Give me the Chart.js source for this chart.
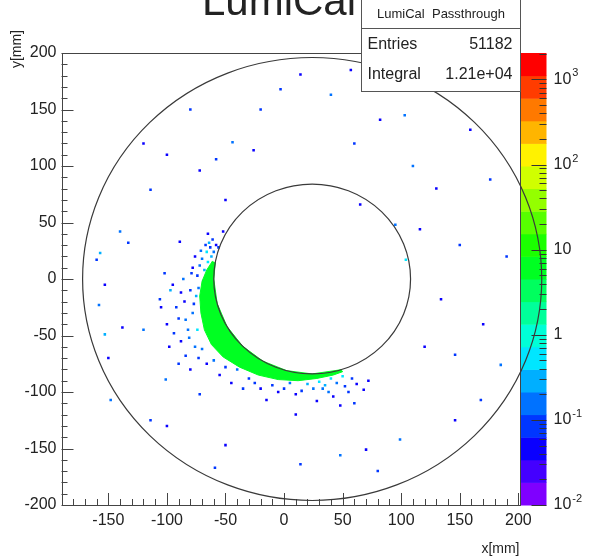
<!DOCTYPE html>
<html>
<head>
<meta charset="utf-8">
<script src="https://cdn.jsdelivr.net/npm/chart.js@4.4.0/dist/chart.umd.min.js"></script>
<style>
  html, body { margin: 0; padding: 0; background: #fff; }
  #wrap { width: 591px; height: 558px; }
</style>
</head>
<body>
<div id="wrap"><canvas id="c" width="591" height="558"></canvas></div>
<script>
// ---- data ----
const title = 'LumiCal';
const statsName = 'LumiCal  Passthrough';
const statsLabels = ['Entries', 'Integral'];
const statsValues = ['51182', '1.21e+04'];

const xTicks = [-150, -100, -50, 0, 50, 100, 150, 200];
const yTicks = [-200, -150, -100, -50, 0, 50, 100, 150, 200];
const zTicks = [0.01, 0.1, 1, 10, 100, 1000];
const zTickBase = ['10', '10', '1', '10', '10', '10'];
const zTickExp = ['-2', '-1', '', '', '2', '3'];

// 20 colour levels, lowest first
const palette = [
  '#7f00ff', '#4400ff', '#0a00ff', '#0036ff', '#0072ff', '#00afff', '#00e6ff',
  '#00ffd7', '#00ff9a', '#00ff5e', '#00ff22', '#1bff00', '#57ff00', '#94ff00',
  '#d0ff00', '#fff200', '#ffb500', '#ff7900', '#ff3c00', '#ff0000'
];

// detector rings [mm]
const ringX = [24, 24];
const ringY = [0, 0];
const ringR = [196, 84];

// dense crescent of hits next to the inner ring
const crescentX = [-61, -66, -70, -72, -71, -68, -62, -52, -38, -22, -5, 12, 28, 42, 50,
  48.6, 24, 2.3, -18, -35.4, -48.7, -57.1, -60, -58.7];
const crescentY = [16, 8, -2, -15, -30, -45, -58, -69, -78, -85, -89, -90, -88, -85, -82,
  -80.3, -84, -81.1, -72.7, -59.4, -42, -21.7, 0, 14.6];
const crescentZ = 8;

// isolated bins
const hitX = [-44, -26, -58, -140, -133, -157, -160, -153, -158, -153, -138, -120, -106, -89, -97,
  -84, -101, -72, -50, 14, 48, 70, 99, 146, 168, 185, 134, 146, 176, 159,
  103, 82, 40, 14, -3, 116, 95, 104, 65, -114, -72, -148, -114, -100, -59,
  57, -20, -150, 10, 60, 120, 150, 130, 60, -50, -100, 190, 170, 80, 110,
  -120, -80,
  -62, -65, -60, -68, -63, -70, -58, -72, -66, -74, -61, -69, -76, -64, -56,
  -80, -85, -78, -90, -82, -88, -76, -92, -95, -84, -100, -86, -79, -98, -90,
  -75, -74, -70, -80,
  30, 35, 40, 45, 25, 52, 38, 20, 58, 42, 15, 62, 0, -10, 50, 68, 28, 48,
  -30, -20, -40, -50, -15, -35, -60, -45,
  -67, -71, -78, -73, -77, -81, -73, -66, -88, -94, -105, -102,
  5, 10, 33, 55, 72, -5, -25, -55, -65, -52];
const hitY = [121, 114, 106, 42, 32, 23, 17, -5, -23, -49, -43, -45, -18, 33, -10,
  -36, -89, -102, -147, -164, -156, -151, -142, -125, -107, -76, -18, -67, 88, 132,
  145, 141, 163, 181, 168, 44, 48, 17, 66, 79, 96, -107, -125, -130, -167,
  185, 150, -70, -120, -110, -60, 30, 80, 120, 70, 110, 20, -40, -170, 100,
  120, 150,
  20, 15, 24, 8, 28, 18, 30, 12, 24, 3, 35, -2, 20, 32, 28,
  -10, -20, -30, -35, -45, -55, -60, -25, -5, -68, -40, 0, 5, -60, -75,
  -15, -45, -62, -80,
  -91, -94, -88, -92, -97, -95, -100, -93, -88, -104, -99, -93, -97, -94, -86, -98, -108, -112,
  -88, -97, -80, -78, -107, -97, -72, -92,
  30, 25, 10, -8, -22, -52, -70, -75, -12, -48, -25, 5,
  -92, -102, -97, -100, -90, -100, -92, -85, 40, 42];
const hitZ = [0.15, 0.05, 0.1, 0.2, 0.08, 0.3, 0.1, 0.05, 0.15, 0.3, 0.05, 0.2, 0.1, 0.04, 0.3,
  0.2, 0.15, 0.1, 0.05, 0.1, 0.2, 0.06, 0.15, 0.05, 0.1, 0.2, 0.05, 0.08, 0.1, 0.04,
  0.2, 0.06, 0.15, 0.05, 0.1, 0.05, 0.2, 0.4, 0.05, 0.1, 0.05, 0.15, 0.08, 0.05, 0.1,
  0.05, 0.1, 0.05, 0.05, 0.1, 0.04, 0.1, 0.05, 0.1, 0.05, 0.04, 0.1, 0.05, 0.1, 0.15,
  0.05, 0.1,
  0.3, 0.5, 0.2, 0.3, 0.1, 0.15, 0.05, 0.2, 0.4, 0.1, 0.08, 0.2, 0.05, 0.3, 0.1,
  0.1, 0.05, 0.2, 0.1, 0.15, 0.05, 0.2, 0.08, 0.05, 0.1, 0.05, 0.15, 0.1, 0.04, 0.1,
  0.3, 0.4, 0.2, 0.05,
  0.4, 0.3, 0.5, 0.2, 0.15, 0.1, 0.2, 0.3, 0.1, 0.05, 0.1, 0.05, 0.08, 0.1, 0.6, 0.04, 0.05, 0.04,
  0.1, 0.05, 0.2, 0.08, 0.05, 0.1, 0.15, 0.04,
  0.1, 0.2, 0.05, 0.15, 0.1, 0.2, 0.1, 0.05, 0.04, 0.1, 0.05, 0.08,
  0.2, 0.05, 0.2, 0.08, 0.05, 0.05, 0.1, 0.05, 0.05, 0.04];

// ---- helpers ----
const zMin = 0.01, zMax = 2045;
const FONT = "'Liberation Sans', Arial, Helvetica, sans-serif";
const INK = '#222';

function zColor(v) {
  const lo = Math.log10(zMin), hi = Math.log10(zMax);
  const f = (Math.log10(v) - lo) / (hi - lo);
  const i = Math.floor(f * palette.length);
  return palette[Math.max(0, Math.min(palette.length - 1, i))];
}

const rootPlugin = {
  id: 'rootPad',
  afterDraw(chart) {
    const ctx = chart.ctx;
    const a = chart.chartArea;
    const xs = chart.scales.x, ys = chart.scales.y, zs = chart.scales.z;
    ctx.save();

    // palette axis
    const barL = a.right + 1, barW = 26, barR = barL + barW;
    const lo = Math.log10(zMin), hi = Math.log10(zMax);
    for (let i = 0; i < palette.length; i++) {
      const y0 = zs.getPixelForValue(Math.pow(10, lo + (hi - lo) * i / palette.length));
      const y1 = zs.getPixelForValue(Math.pow(10, lo + (hi - lo) * (i + 1) / palette.length));
      ctx.fillStyle = palette[i];
      ctx.fillRect(barL, y1, barW, y0 - y1 + 0.5);
    }
    ctx.strokeStyle = '#333';
    ctx.lineWidth = 1;
    ctx.beginPath();
    for (let k = -2; k <= 3; k++) {
      for (let m = 1; m <= 9; m++) {
        const v = m * Math.pow(10, k);
        if (v < zMin || v > zMax) continue;
        const py = Math.round(zs.getPixelForValue(v)) + 0.5;
        ctx.moveTo(barR, py);
        ctx.lineTo(barR - (m === 1 ? 15 : 7), py);
      }
    }
    ctx.stroke();
    ctx.fillStyle = INK;
    ctx.textBaseline = 'middle';
    ctx.textAlign = 'left';
    zTicks.forEach((v, i) => {
      const py = zs.getPixelForValue(v);
      ctx.font = '16px ' + FONT;
      ctx.fillText(zTickBase[i], barR + 7, py);
      if (zTickExp[i]) {
        const w = ctx.measureText(zTickBase[i]).width;
        ctx.font = '11px ' + FONT;
        ctx.fillText(zTickExp[i], barR + 8 + w, py - 6);
      }
    });

    // frame
    ctx.strokeStyle = '#444';
    ctx.lineWidth = 1;
    ctx.strokeRect(Math.round(a.left) + 0.5, Math.round(a.top) + 0.5,
      Math.round(a.right - a.left), Math.round(a.bottom - a.top));

    // inward ticks
    ctx.beginPath();
    for (let v = Math.ceil(xs.min / 10) * 10; v <= xs.max; v += 10) {
      const px = Math.round(xs.getPixelForValue(v)) + 0.5;
      ctx.moveTo(px, a.bottom);
      ctx.lineTo(px, a.bottom - (v % 50 === 0 ? 12 : 6));
    }
    for (let v = ys.min; v <= ys.max; v += 10) {
      const py = Math.round(ys.getPixelForValue(v)) + 0.5;
      ctx.moveTo(a.left, py);
      ctx.lineTo(a.left + (v % 50 === 0 ? 12 : 6), py);
    }
    ctx.stroke();

    // rings
    ctx.strokeStyle = '#3a3a3a';
    ctx.lineWidth = 1.2;
    ringX.forEach((cx, i) => {
      const px = xs.getPixelForValue(cx), py = ys.getPixelForValue(ringY[i]);
      const rx = Math.abs(xs.getPixelForValue(cx + ringR[i]) - px);
      const ry = Math.abs(ys.getPixelForValue(ringY[i] + ringR[i]) - py);
      ctx.beginPath();
      ctx.ellipse(px, py, rx, ry, 0, 0, Math.PI * 2);
      ctx.stroke();
    });

    // stats box
    const bL = 361.5, bR = Math.round(a.right) + 0.5, bT = -1, bB = 91.5, bD = 28.5;
    ctx.fillStyle = '#fff';
    ctx.fillRect(bL, bT, bR - bL, bB - bT);
    ctx.strokeStyle = '#555';
    ctx.lineWidth = 1;
    ctx.strokeRect(bL, bT, bR - bL, bB - bT);
    ctx.beginPath();
    ctx.moveTo(bL, bD);
    ctx.lineTo(bR, bD);
    ctx.stroke();
    ctx.fillStyle = INK;
    ctx.font = '13px ' + FONT;
    ctx.textAlign = 'center';
    ctx.fillText(statsName, (bL + bR) / 2, 14);
    ctx.font = '16px ' + FONT;
    statsLabels.forEach((t, i) => {
      const ty = 45 + i * 30;
      ctx.textAlign = 'left';
      ctx.fillText(t, bL + 6, ty);
      ctx.textAlign = 'right';
      ctx.fillText(statsValues[i], bR - 8, ty);
    });

    // title (cut by the top of the pad)
    ctx.font = '42px ' + FONT;
    ctx.textAlign = 'center';
    ctx.textBaseline = 'alphabetic';
    ctx.fillText(title, 279, 15);

    // axis titles
    ctx.font = '14px ' + FONT;
    ctx.textAlign = 'right';
    ctx.fillText('x[mm]', a.right, 553);
    ctx.save();
    ctx.translate(21, 30);
    ctx.rotate(-Math.PI / 2);
    ctx.textAlign = 'right';
    ctx.fillText('y[mm]', 0, 0);
    ctx.restore();

    ctx.restore();
  }
};

new Chart(document.getElementById('c'), {
  type: 'scatter',
  data: {
    datasets: [
      {
        data: crescentX.map((x, i) => ({ x: x, y: crescentY[i] })),
        showLine: true,
        fill: 'shape',
        backgroundColor: zColor(crescentZ),
        borderColor: zColor(crescentZ),
        borderWidth: 1,
        pointRadius: 0,
        tension: 0
      },
      {
        data: hitX.map((x, i) => ({ x: x, y: hitY[i] })),
        pointStyle: 'rect',
        pointRadius: 1.8,
        borderWidth: 0,
        backgroundColor: hitZ.map(zColor)
      }
    ]
  },
  options: {
    responsive: false,
    animation: false,
    devicePixelRatio: 1,
    layout: { padding: { top: 53, right: 71.5, bottom: 0, left: 0 } },
    plugins: { legend: { display: false }, tooltip: { enabled: false }, title: { display: false } },
    scales: {
      x: {
        type: 'linear', min: -190, max: 201,
        afterBuildTicks: s => { s.ticks = xTicks.map(v => ({ value: v })); },
        afterFit: s => { s.height = 53; },
        grid: { display: false, drawTicks: false },
        border: { display: false },
        ticks: { padding: 6, maxRotation: 0, autoSkip: false, color: INK, font: { family: FONT, size: 16 } }
      },
      y: {
        type: 'linear', min: -200, max: 200,
        afterBuildTicks: s => { s.ticks = yTicks.map(v => ({ value: v })); },
        afterFit: s => { s.width = 61.5; },
        grid: { display: false, drawTicks: false },
        border: { display: false },
        ticks: { padding: 5, autoSkip: false, color: INK, font: { family: FONT, size: 16 } }
      },
      z: {
        type: 'logarithmic', position: 'right', display: false, min: zMin, max: zMax
      }
    }
  },
  plugins: [rootPlugin]
});
</script>
</body>
</html>
